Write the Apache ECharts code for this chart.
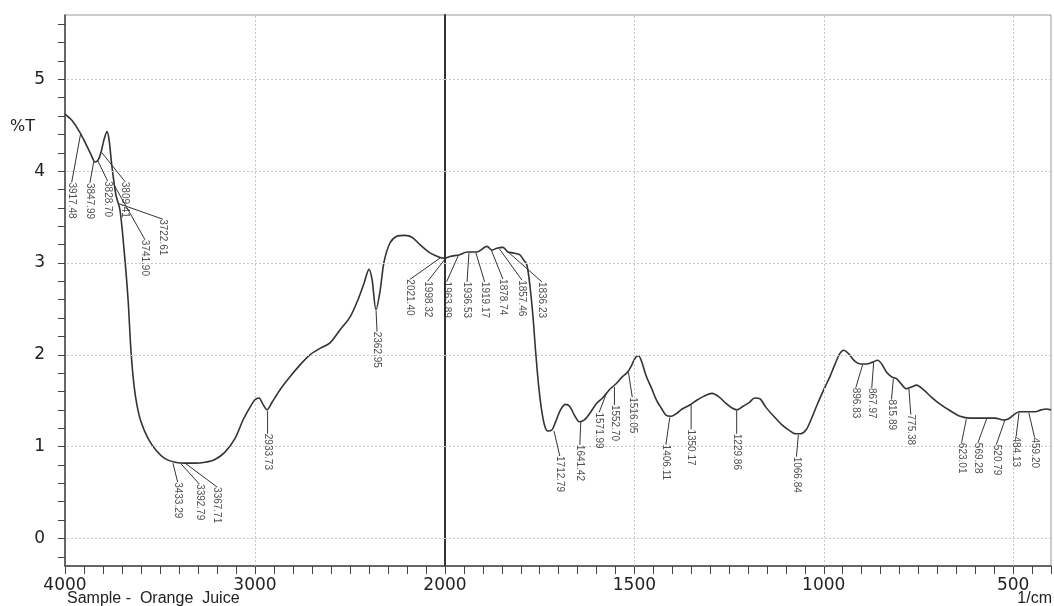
<!DOCTYPE html>
<html><head><meta charset="utf-8">
<script src="https://cdn.jsdelivr.net/npm/echarts@6/dist/echarts.min.js"></script>
<style>html,body{margin:0;padding:0;background:#fff}#c{width:1054px;height:606px}</style>
</head><body><div id="c"></div>
<script>
// ---- spectrum data (wavenumber 1/cm, %T) ----
var wavenumber = [
  4000,3963,3921,3884,3863,3842,3826,3811,3795,3779,3768,3753,3732,3711,3689,3668,3653,3637,3621,3600,
  3563,3521,3474,3421,3368,3316,3263,3211,3158,3105,3063,3026,3000,2979,2958,2937,2911,2868,2816,2763,
  2711,2658,2605,2553,2500,2458,2426,2400,2384,2363,2342,2321,2289,2253,2211,2174,2132,2079,2026,2000,
  1987,1961,1942,1916,1889,1876,1863,1847,1834,1821,1803,1792,1784,1776,1768,1761,1753,1745,1737,1729,
  1718,1708,1695,1682,1671,1658,1645,1632,1618,1600,1584,1566,1547,1532,1518,1508,1497,1489,1482,1468,
  1455,1442,1429,1416,1403,1389,1374,1355,1337,1316,1295,1276,1258,1242,1229,1213,1197,1182,1168,1153,
  1132,1111,1092,1074,1061,1047,1034,1018,1000,984,971,958,947,934,918,903,887,871,858,847,
  834,821,808,795,782,768,755,737,716,692,666,640,613,579,547,526,513,500,484,461,
  442,426,413,400
];
var transmittance = [
  4.62,4.55,4.42,4.27,4.18,4.10,4.12,4.20,4.34,4.43,4.34,4.05,3.74,3.58,3.14,2.60,2.05,1.67,1.45,1.27,
  1.09,0.96,0.87,0.83,0.82,0.82,0.83,0.86,0.94,1.09,1.29,1.43,1.51,1.53,1.46,1.40,1.48,1.62,1.76,1.89,
  2.00,2.07,2.13,2.27,2.41,2.60,2.78,2.93,2.82,2.49,2.69,3.01,3.22,3.29,3.30,3.28,3.20,3.11,3.06,3.05,
  3.07,3.09,3.12,3.12,3.18,3.14,3.16,3.17,3.12,3.11,3.09,3.03,2.98,2.76,2.43,2.05,1.67,1.40,1.23,1.17,
  1.18,1.27,1.40,1.46,1.44,1.34,1.27,1.29,1.36,1.47,1.53,1.62,1.69,1.76,1.81,1.88,1.97,1.99,1.94,1.76,
  1.64,1.51,1.42,1.34,1.33,1.36,1.41,1.45,1.50,1.55,1.58,1.54,1.47,1.42,1.40,1.44,1.48,1.53,1.52,1.43,
  1.33,1.24,1.18,1.14,1.14,1.18,1.29,1.45,1.62,1.76,1.89,2.01,2.05,2.01,1.93,1.90,1.90,1.92,1.94,1.90,
  1.81,1.76,1.74,1.68,1.63,1.65,1.67,1.62,1.54,1.46,1.39,1.33,1.31,1.31,1.31,1.29,1.30,1.34,1.38,1.38,
  1.38,1.40,1.41,1.40
];
// ---- picked peaks ----
var peakWavenumber = [
  3917.48,3847.99,3828.70,3809.41,3741.90,3722.61,3433.29,3392.79,3367.71,2933.73,2362.95,2021.40,
  1998.32,1963.89,1936.53,1919.17,1878.74,1857.46,1836.23,1712.79,1641.42,1571.99,1552.70,1516.05,
  1406.11,1350.17,1229.86,1066.84,896.83,867.97,815.89,775.38,623.01,569.28,520.79,484.13,459.20
];
var peakTransmittance = [
  4.41,4.11,4.12,4.21,3.85,3.65,0.83,0.82,0.82,1.40,2.49,3.06,
  3.05,3.09,3.12,3.12,3.15,3.16,3.13,1.18,1.28,1.60,1.66,1.82,
  1.33,1.47,1.40,1.14,1.90,1.93,1.75,1.64,1.31,1.31,1.30,1.38,1.38
];
// ---- tick labels ----
var xTickLabelsLeft = [4000, 3000];
var xTickLabelsRight = [2000, 1500, 1000, 500];
var yTickLabels = [0, 1, 2, 3, 4, 5];

// ---- label placement (style only: pixel offsets of each peak label from its peak) ----
var peakLabelOffsets = [
  [-9,67],[-4,40],[10,39],[24,48],[31,73],[45,34],[5,38],[19,39],[32,42],[0,42],[1,40],[-31,40],
  [-18,41],[-12,45],[-2,48],[9,48],[12,48],[23,50],[35,49],[6,44],[-1,42],[-8,39],[0,37],[4,44],
  [-4,46],[0,44],[0,42],[-2,41],[-7,39],[-2,42],[-2,37],[2,42],[-5,40],[-9,40],[-9,41],[-3,40],[6,41]
];

var lineA = [], lineB = [];
wavenumber.forEach(function (w, i) {
  if (w >= 2000) lineA.push([w, transmittance[i]]);
  if (w <= 2000) lineB.push([w, transmittance[i]]);
});
var peaksA = [], peaksB = [], offA = [], offB = [];
peakWavenumber.forEach(function (w, i) {
  if (w > 2000) { peaksA.push([w, peakTransmittance[i]]); offA.push(peakLabelOffsets[i]); }
  else { peaksB.push([w, peakTransmittance[i]]); offB.push(peakLabelOffsets[i]); }
});
var yMinorTicks = [];
for (var k = -1; k <= 28; k++) yMinorTicks.push(Math.round(k * 2) / 10);

var Y_MIN = -0.3, Y_MAX = 5.7;
var gridLineStyle = { color: '#c8c8c8', type: [2, 2], width: 1 };
var hLines = yTickLabels.map(function (v) { return { yAxis: v }; });

function peakSeries(data, offs, xi) {
  return {
    type: 'scatter', xAxisIndex: xi, yAxisIndex: xi, data: data,
    symbolSize: 2, itemStyle: { color: 'rgba(0,0,0,0)' }, silent: true, z: 5,
    label: {
      show: true, rotate: -90, fontSize: 10, fontFamily: 'Liberation Sans, Arial, sans-serif',
      color: '#222', formatter: function (p) { return p.value[0].toFixed(2); }
    },
    labelLine: { show: true, lineStyle: { color: '#333', width: 1 } },
    labelLayout: function (p) {
      var o = offs[p.dataIndex];
      return {
        x: p.rect.x + p.rect.width / 2 + o[0],
        y: p.rect.y + p.rect.height / 2 + o[1],
        align: 'center', verticalAlign: 'middle', rotate: -90
      };
    }
  };
}

var axisFont = { fontSize: 17, color: '#222', fontFamily: 'DejaVu Sans, sans-serif' };
function ext(a, b) { for (var key in b) a[key] = b[key]; return a; }

var chart = echarts.init(document.getElementById('c'));
window.chart = chart;

var option = {
  backgroundColor: '#fff',
  animation: false,
  grid: [
    { left: 65, width: 380, top: 15, bottom: 40, show: true, borderColor: '#999', borderWidth: 1 },
    { left: 445, width: 608, top: 15, bottom: 40, show: true, borderColor: '#999', borderWidth: 1 }
  ],
  xAxis: [
    {
      gridIndex: 0, type: 'value', inverse: true, min: 2000, max: 4000, interval: 100,
      axisLine: { show: true, onZero: false, lineStyle: { color: '#444', width: 1.5 } },
      axisTick: { show: true, length: 8, lineStyle: { color: '#444' } },
      axisLabel: ext({ margin: 11, showMinLabel: true, showMaxLabel: true,
        formatter: function (v) { return xTickLabelsLeft.indexOf(v) >= 0 ? String(v) : ''; } }, axisFont),
      splitLine: { show: false }
    },
    {
      gridIndex: 1, type: 'value', inverse: true, min: 400, max: 2000, interval: 50,
      axisLine: { show: true, onZero: false, lineStyle: { color: '#444', width: 1.5 } },
      axisTick: { show: true, length: 8, lineStyle: { color: '#444' } },
      axisLabel: ext({ margin: 11, showMinLabel: true, showMaxLabel: true,
        formatter: function (v) { return xTickLabelsRight.indexOf(v) >= 0 ? String(v) : ''; } }, axisFont),
      splitLine: { show: false }
    }
  ],
  yAxis: [
    {
      gridIndex: 0, type: 'value', min: Y_MIN, max: Y_MAX,
      axisLine: { show: true, onZero: false, lineStyle: { color: '#444', width: 1.5 } },
      axisTick: { show: true, length: 7, customValues: yMinorTicks, lineStyle: { color: '#444' } },
      axisLabel: ext({ margin: 20, customValues: yTickLabels }, axisFont),
      splitLine: { show: false }
    },
    {
      gridIndex: 1, type: 'value', min: Y_MIN, max: Y_MAX,
      axisLine: { show: true, onZero: false, lineStyle: { color: '#333', width: 2 } },
      axisTick: { show: false }, axisLabel: { show: false }, splitLine: { show: false }
    }
  ],
  series: [
    {
      type: 'line', xAxisIndex: 0, yAxisIndex: 0, data: lineA, showSymbol: false, smooth: 0.3,
      lineStyle: { color: '#333', width: 1.6 }, silent: true, z: 3,
      markLine: { silent: true, symbol: 'none', label: { show: false }, lineStyle: gridLineStyle,
        data: hLines.concat([{ xAxis: 3000 }]) }
    },
    {
      type: 'line', xAxisIndex: 1, yAxisIndex: 1, data: lineB, showSymbol: false, smooth: 0.3,
      lineStyle: { color: '#333', width: 1.6 }, silent: true, z: 3,
      markLine: { silent: true, symbol: 'none', label: { show: false }, lineStyle: gridLineStyle,
        data: hLines.concat([{ xAxis: 1500 }, { xAxis: 1000 }, { xAxis: 500 }]) }
    },
    peakSeries(peaksA, offA, 0),
    peakSeries(peaksB, offB, 1)
  ],
  graphic: [
    { type: 'text', left: 10, top: 119, style: { text: '%T', fontSize: 16, fill: '#222', fontFamily: 'DejaVu Sans, sans-serif' } },
    { type: 'text', left: 67, top: 591, style: { text: 'Sample -  Orange  Juice', fontSize: 16, fill: '#222', fontFamily: 'Liberation Sans, Arial, sans-serif' } },
    { type: 'text', right: 2, top: 591, style: { text: '1/cm', fontSize: 16, fill: '#222', fontFamily: 'Liberation Sans, Arial, sans-serif' } }
  ]
};
chart.setOption(option);
</script></body></html>
